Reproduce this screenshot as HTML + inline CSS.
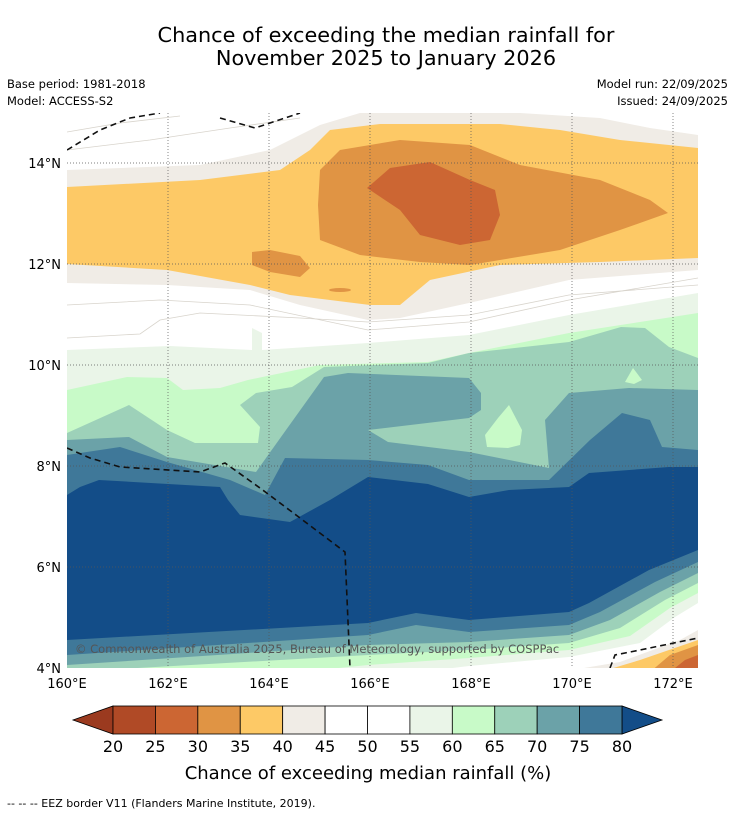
<!DOCTYPE html>
<html><head><meta charset="utf-8"><style>
body{margin:0;background:#fff;font-family:"DejaVu Sans",sans-serif}
svg text{font-family:"DejaVu Sans",sans-serif}
</style></head><body>
<svg id="s" width="736" height="816" viewBox="0 0 736 816" xmlns="http://www.w3.org/2000/svg">
<rect width="736" height="816" fill="#fff"/>
<text x="386" y="42" font-size="20.8" text-anchor="middle">Chance of exceeding the median rainfall for</text>
<text x="386" y="65" font-size="20.8" text-anchor="middle">November 2025 to January 2026</text>
<text x="7" y="88" font-size="11.5">Base period: 1981-2018</text>
<text x="7" y="105" font-size="11.5">Model: ACCESS-S2</text>
<text x="728" y="88" font-size="11.5" text-anchor="end">Model run: 22/09/2025</text>
<text x="728" y="105" font-size="11.5" text-anchor="end">Issued: 24/09/2025</text>
<defs><clipPath id="mc"><rect x="67" y="113" width="631" height="555"/></clipPath></defs>
<g clip-path="url(#mc)">
<rect x="67" y="113" width="631" height="555" fill="#ffffff"/>
<polygon fill="#f0ece6" points="67,170 200,165 270,150 320,125 360,113 520,113 600,118 650,128 698,135 698,270 569,280 469,303 400,318 368,320 300,305 250,290 167,285 67,283"/>
<polygon fill="#fdc966" points="67,187 200,180 280,170 310,150 330,130 380,124 500,124 560,130 620,140 698,148 698,258 600,262 500,265 430,280 400,305 370,305 330,300 290,295 250,285 167,270 67,264"/>
<polygon fill="#e09444" points="320,170 340,150 400,140 470,145 520,165 600,180 650,200 668,213 620,230 560,250 470,265 420,262 360,255 320,240 318,205"/>
<polygon fill="#e09444" points="252,252 270,250 300,256 310,268 300,277 270,272 252,265"/>
<ellipse cx="340" cy="290" rx="11" ry="2" fill="#e09444"/>
<polygon fill="#cc6633" points="367,188 390,168 430,162 470,180 495,190 500,215 490,240 460,245 420,235 400,210"/>
<polygon fill="#eaf5e8" points="67,350 170,346 252,350 252,328 262,333 262,350 368,343 469,335 569,315 698,293 698,668 67,668"/>
<polygon fill="#c8fac8" points="67,390 127,377 167,378 183,390 220,388 248,380 320,365 428,362 469,353 569,333 698,313 698,668 67,668"/>
<polygon fill="#9dd1b9" points="67,433 129,405 167,430 195,443 258,443 260,427 240,405 256,393 292,387 324,367 428,363 469,353 569,342 621,327 645,328 669,347 698,358 698,668 67,668"/>
<polygon fill="#c8fac8" points="625,382 633,368 642,380 634,384"/>
<polygon fill="#c8fac8" points="485,435 498,418 509,405 522,430 520,445 508,448 487,447"/>
<polygon fill="#6ba2a8" points="67,440 129,437 167,457 256,472 286,430 324,377 348,373 469,378 481,393 481,410 469,418 368,430 388,442 469,452 549,468 545,420 569,393 629,388 698,390 698,668 67,668"/>
<polygon fill="#3f7899" points="67,455 120,447 167,462 230,480 265,495 285,458 368,460 428,465 469,480 549,480 590,440 622,413 650,420 662,447 698,450 698,668 67,668"/>
<polygon fill="#134d88" points="67,495 80,487 99,480 220,487 228,500 240,515 290,522 330,500 368,477 428,484 469,497 509,490 569,487 589,473 669,467 698,467 698,668 67,668"/>
<polygon fill="#3f7899" points="67,640 368,623 416,613 469,620 569,612 589,603 649,570 698,550 698,668 67,668"/>
<polygon fill="#6ba2a8" points="67,655 368,635 416,625 469,632 569,625 600,612 655,582 698,562 698,668 67,668"/>
<polygon fill="#9dd1b9" points="67,665 368,645 469,642 569,635 610,620 660,592 698,573 698,668 67,668"/>
<polygon fill="#c8fac8" points="67,672 368,655 469,650 569,643 620,628 665,600 698,583 698,668"/>
<polygon fill="#eaf5e8" points="300,672 368,665 469,658 569,650 630,636 670,608 698,593 698,668"/>
<polygon fill="#ffffff" points="420,672 469,666 569,657 640,643 675,617 698,603 698,668"/>
<polygon fill="#f0ece6" points="560,672 620,662 680,640 698,630 698,668"/>
<polygon fill="#fdc966" points="600,672 640,660 698,640 698,668"/>
<polygon fill="#e09444" points="650,672 670,655 698,645 698,668"/>
<polygon fill="#cc6633" points="670,672 685,660 698,655 698,668"/>
<g fill="none" stroke="#d8d4cc" stroke-width="0.8">
<polyline points="67,338 140,334 160,320 200,313 300,318 368,322 469,315 569,295 698,285"/>
<polyline points="67,305 160,300 250,305 368,330 469,322 569,300 698,278"/>
<polyline points="67,150 150,140 230,128 300,118"/>
<polyline points="67,132 120,123 180,116"/>
</g>
<g stroke="#555" stroke-width="0.7" stroke-dasharray="1,2">
<line x1="168" y1="113" x2="168" y2="668"/><line x1="269" y1="113" x2="269" y2="668"/><line x1="370" y1="113" x2="370" y2="668"/><line x1="471" y1="113" x2="471" y2="668"/><line x1="572" y1="113" x2="572" y2="668"/><line x1="673" y1="113" x2="673" y2="668"/>
<line x1="67" y1="163" x2="698" y2="163"/><line x1="67" y1="264" x2="698" y2="264"/><line x1="67" y1="365" x2="698" y2="365"/><line x1="67" y1="466" x2="698" y2="466"/><line x1="67" y1="567" x2="698" y2="567"/>
</g>
<g fill="none" stroke="#111" stroke-width="1.6" stroke-dasharray="6,4">
<polyline points="67,150 100,130 130,118 160,113"/>
<polyline points="220,118 255,128 300,113"/>
<polyline points="67,448 90,458 120,467 200,472 225,463 260,488 300,518 345,552 350,668"/>
<polyline points="610,668 615,655 640,650 698,638"/>
</g>
<text x="75" y="653" font-size="11.5" fill="#555">© Commonwealth of Australia 2025, Bureau of Meteorology, supported by COSPPac</text>
</g>
<g font-size="13" fill="#000">
<text x="61" y="168" text-anchor="end">14°N</text><text x="61" y="269" text-anchor="end">12°N</text><text x="61" y="370" text-anchor="end">10°N</text><text x="61" y="471" text-anchor="end">8°N</text><text x="61" y="572" text-anchor="end">6°N</text><text x="61" y="673" text-anchor="end">4°N</text>
<text x="67" y="688" text-anchor="middle">160°E</text><text x="168" y="688" text-anchor="middle">162°E</text><text x="269" y="688" text-anchor="middle">164°E</text><text x="370" y="688" text-anchor="middle">166°E</text><text x="471" y="688" text-anchor="middle">168°E</text><text x="572" y="688" text-anchor="middle">170°E</text><text x="673" y="688" text-anchor="middle">172°E</text>
</g>
<g id="cb"></g>
<text x="368" y="779" font-size="18" text-anchor="middle">Chance of exceeding median rainfall (%)</text>
<text x="7" y="807" font-size="11">--  --  -- EEZ border V11 (Flanders Marine Institute, 2019).</text>
</svg>
<script>
const levels=[20,25,30,35,40,45,50,55,60,65,70,75,80];
const binColors=["#b04a26","#cc6633","#e09444","#fdc966","#f0ece6","#ffffff","#ffffff","#eaf5e8","#c8fac8","#9dd1b9","#6ba2a8","#3f7899"];
const lowColor="#9b3a1f", highColor="#134d88";
const NS="http://www.w3.org/2000/svg";
const cb=document.getElementById('cb');
const x0=113,x1=622,y0=706,y1=734;
const sx=v=>x0+(v-levels[0])/(levels[levels.length-1]-levels[0])*(x1-x0);
function mk(t,a){const e=document.createElementNS(NS,t);for(const k in a)e.setAttribute(k,a[k]);cb.appendChild(e);return e;}
let lt=mk('polygon',{points:`${x0},${y0} ${x0},${y1} 73,${(y0+y1)/2}`,fill:lowColor,stroke:'#000','stroke-width':0.8});


let ht=mk('polygon',{points:`${x1},${y0} ${x1},${y1} 662,${(y0+y1)/2}`,fill:highColor,stroke:'#000','stroke-width':0.8});


for(let i=0;i<binColors.length;i++){
  const a=sx(levels[i]),b=sx(levels[i+1]);
  const r=mk('rect',{x:a,y:y0,width:b-a,height:y1-y0,fill:binColors[i],stroke:'#000','stroke-width':0.8});
  
  
}
levels.forEach(v=>{
  const t=mk('text',{x:sx(v),y:752,'font-size':16,'text-anchor':'middle'});
  t.textContent=v;
  
  
});
</script>
</body></html>
